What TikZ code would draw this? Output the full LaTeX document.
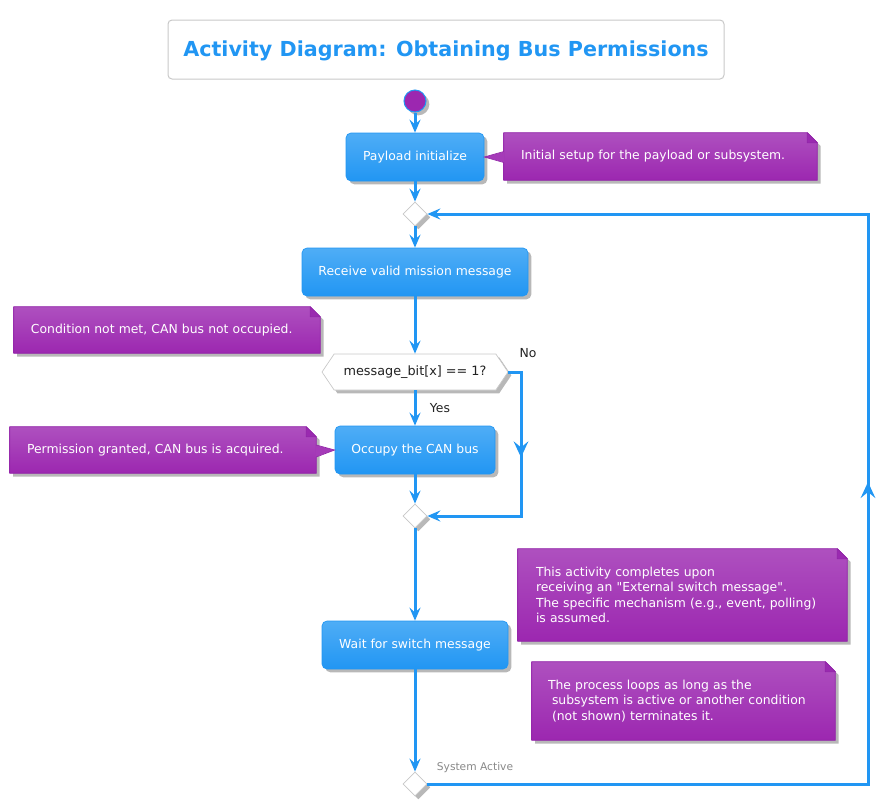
\documentclass[tikz,border=0pt]{standalone}
\usepackage{fontspec}
\setmainfont{DejaVu Sans}
\newfontfamily\plainq{DejaVu Sans}
\usetikzlibrary{shapes.geometric,shapes.symbols,arrows.meta,shadows,decorations.markings,calc}
\pgfdeclarelayer{background}
\pgfsetlayers{background,main}
\definecolor{myblue}{HTML}{2196F3}
\definecolor{boxtop}{HTML}{4FADF6}
\definecolor{boxbot}{HTML}{2196F3}
\definecolor{notetop}{HTML}{AE50BF}
\definecolor{notebot}{HTML}{9C27B0}
\definecolor{notemid}{HTML}{A53BB8}
\definecolor{noteborder}{HTML}{9124A8}
\definecolor{notefold}{HTML}{9A2AB0}
\definecolor{startfill}{HTML}{9C27B0}
\definecolor{lightgray}{HTML}{C8C8C8}
\definecolor{darktext}{HTML}{222222}
\definecolor{softgray}{HTML}{888888}
\tikzset{
  shdw/.style={drop shadow={shadow xshift=2.5pt,shadow yshift=-2.5pt,opacity=0.28,fill=black}},
  flow/.style={draw=myblue,color=myblue,line width=2.25pt},
  arr/.style={flow,-{Stealth[length=9.75pt,width=8.25pt,inset=3.5pt]}},
  midarrow/.style={postaction={decorate,decoration={markings,
      mark=at position #1 with {\arrow{Stealth[length=12pt,width=11pt,inset=4.5pt]}}}}},
  act/.style={rectangle,rounded corners=3.75pt,top color=boxtop,bottom color=boxbot,
      draw=boxbot,line width=0.5pt,text=white,font=\fontsize{9.3}{11}\selectfont,
      minimum height=36pt,inner sep=0pt,shdw},
  notetext/.style={rectangle,inner ysep=0pt,text=white,align=left,
      font=\fontsize{9.3}{11.5}\selectfont},
  notebg/.style={top color=notetop,bottom color=notebot,draw=noteborder,line width=0.5pt,shdw},
  merge/.style={diamond,aspect=1,minimum width=18pt,minimum height=18pt,inner sep=0pt,
      fill=white,draw=lightgray,line width=0.5pt,shdw},
  lbl/.style={text=darktext,font=\fontsize{9.3}{11}\selectfont,inner sep=0pt}
}
\newcommand\drawnote[1]{%
  \begin{pgfonlayer}{background}
  \path[notebg] (#1.north west) -- ([xshift=-7.5pt]#1.north east)
     -- ([yshift=-7.5pt]#1.north east) -- (#1.south east) -- (#1.south west) -- cycle;
  \path[fill=notefold,draw=noteborder,line width=0.5pt,line join=round]
     ([xshift=-7.5pt]#1.north east) -- ([xshift=-7.5pt,yshift=-7.5pt]#1.north east)
     -- ([yshift=-7.5pt]#1.north east) -- cycle;
  \end{pgfonlayer}}
\begin{document}
\begin{tikzpicture}[x=0.75pt,y=-0.75pt]
\useasboundingbox (0,0) rectangle (894,808);

% title
\node[rectangle,rounded corners=3pt,draw=lightgray,line width=0.75pt,
      minimum width=417pt,minimum height=44.25pt,text=myblue,text depth=1.5pt,
      font=\fontsize{15.5}{18}\selectfont\bfseries] (title) at (446,49.5)
      {Activity Diagram: Obtaining Bus Permissions};

% start
\node[circle,minimum size=16.5pt,inner sep=0pt,fill=startfill,draw=myblue,
      line width=0.75pt,shdw] (start) at (415,101) {};

% activities
\node[act,minimum width=103.5pt] (payload) at (415,157) {Payload initialize};
\node[merge] (m1) at (415,214) {};
\node[act,minimum width=169.5pt] (recv) at (415,272) {Receive valid mission message};
\node[signal,signal to=west and east,signal pointer angle=112,
      minimum width=139.5pt,minimum height=27pt,inner sep=0pt,
      fill=white,draw=lightgray,line width=0.5pt,shdw,
      text=darktext,font=\fontsize{9.6}{11}\selectfont] (dec) at (415,372) {message\_bit[x] == 1?};
\node[act,minimum width=120pt] (occ) at (415,450) {Occupy the CAN bus};
\node[merge] (m2) at (415,516) {};
\node[act,minimum width=139.5pt] (wait) at (415,645) {Wait for switch message};
\node[merge] (m3) at (415,784) {};

% notes
\node[notetext,minimum width=234.75pt,minimum height=35.25pt,text width=209.25pt,inner xsep=12.75pt]
  (n1) at (660.5,156.5) {Initial setup for the payload or subsystem.};
\drawnote{n1}
\node[notetext,minimum width=229.5pt,minimum height=34.5pt,text width=204pt,inner xsep=12.75pt]
  (n2) at (167,330) {Condition not met, CAN bus not occupied.};
\drawnote{n2}
\node[notetext,minimum width=229.5pt,minimum height=34.5pt,text width=204pt,inner xsep=12.75pt]
  (n3) at (163,450) {Permission granted, CAN bus is acquired.};
\drawnote{n3}
\node[notetext,minimum width=246.75pt,minimum height=69pt,text width=219.75pt,inner xsep=13.5pt]
  (n4) at (682.5,595) {This activity completes upon\\receiving an {\plainq"}External switch message{\plainq"}.\\The specific mechanism (e.g., event, polling)\\is assumed.};
\drawnote{n4}
\node[notetext,minimum width=227.25pt,minimum height=58.5pt,text width=203.25pt,inner xsep=12pt]
  (n5) at (683.5,701) {The process loops as long as the\\\hspace*{3pt}subsystem is active or another condition\\\hspace*{3pt}(not shown) terminates it.};
\drawnote{n5}

% note pointers
\path[fill=notemid] (payload.east) -- ($(n1.west)+(1,-5)$) -- ($(n1.west)+(1,6)$) -- cycle;
\draw[noteborder,line width=0.5pt] ($(n1.west)+(0,-5)$) -- (payload.east) -- ($(n1.west)+(0,6)$);
\path[fill=notemid] (occ.west) -- ($(n3.east)+(-1,-5)$) -- ($(n3.east)+(-1,7)$) -- cycle;
\draw[noteborder,line width=0.5pt] ($(n3.east)+(0,-5)$) -- (occ.west) -- ($(n3.east)+(0,7)$);

% connectors
\draw[arr] (start) -- (payload);
\draw[arr] (payload) -- (m1);
\draw[arr] (m1) -- (recv);
\draw[arr] (recv.south) -- (recv.south |- dec.north);
\draw[arr] (dec.south) -- (occ.north);
\draw[arr] (occ) -- (m2);
\draw[arr] (m2) -- (wait);
\draw[arr] (wait) -- (m3);
\coordinate (noA) at (521,372);
\coordinate (noB) at (521,516);
\draw[flow,line join=miter,midarrow=73.5pt,-{Stealth[length=9.75pt,width=8.25pt,inset=3.5pt]}]
  (dec.east) -- (noA) -- (noB) -- (m2.east);
\coordinate (lpA) at (868,784);
\coordinate (lpB) at (868,214);
\draw[flow,line join=miter,midarrow=557pt,-{Stealth[length=9.75pt,width=8.25pt,inset=3.5pt]}]
  (m3.east) -- (lpA) -- (lpB) -- (m1.east);

% labels
\node[lbl] (yes) at (440,408) {Yes};
\node[lbl] (no) at (528,353) {No};
\node[lbl,text=softgray,font=\fontsize{8}{10}\selectfont] (sysact) at (475,768) {System Active};
\end{tikzpicture}
\end{document}
